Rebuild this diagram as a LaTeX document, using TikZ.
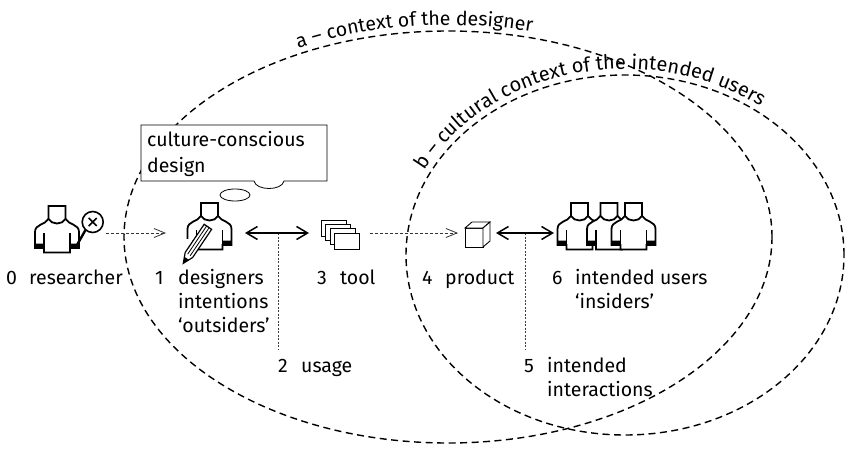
\documentclass[tikz,border=0pt]{standalone}
\usepackage{fontspec}
\setmainfont[Numbers=Lining]{Fira Sans}
\usetikzlibrary{decorations.text,arrows.meta}
\tikzset{
  ctx/.style={draw=black,line width=1.4pt,dash pattern=on 7pt off 4.5pt},
  dot/.style={draw=black!75,line width=0.8pt,dash pattern=on 2pt off 1.5pt},
  flow/.style={draw=black!80,line width=0.8pt,dash pattern=on 3pt off 2pt,-{Straight Barb[length=11pt,width=9pt,line width=.8pt]}},
  link/.style={draw=black,line width=1.5pt,{Straight Barb[length=11pt,width=13pt,line width=1.5pt]}-{Straight Barb[length=11pt,width=13pt,line width=1.5pt]}},
  lab/.style={anchor=base west,font=\fontsize{19.5}{24}\selectfont,inner sep=0pt,align=left},
  person/.pic={
    \begin{scope}[yscale=-1,line width=1.8pt,line join=miter]
    \draw[fill=white] (-22,43) -- (-22,27) .. controls (-22,19) and (-12,20) .. (-8.5,14) -- (8.5,14) .. controls (12,20) and (22,19) .. (22,27) -- (22,43) -- (13,43) -- (13,47.5) -- (-13,47.5) -- (-13,43) -- cycle;
    \draw[fill=white] (-8.5,14) -- (-8.5,0.9) -- (8.5,0.9) -- (8.5,14) .. controls (5,20) and (-5,20) .. (-8.5,14) -- cycle;
    \draw (-13,28) -- (-13,47.5) (13,28) -- (13,47.5);
    \fill (-22,38.5) rectangle (-13,43) (13,38.5) rectangle (22,43);
    \end{scope}
  }
}
\begin{document}
\begin{tikzpicture}[x=1pt,y=1pt]
\useasboundingbox (0,0) rectangle (845,472);
% context ellipses
\coordinate (ca) at (448,235);
\coordinate (cb) at (625,217);
\draw[ctx] (ca) ellipse [x radius=324,y radius=206];
\draw[ctx] (cb) ellipse [x radius=219,y radius=180];
\path[decorate,decoration={text along path,text={|\fontsize{19.5}{19.5}\selectfont|a – context of the designer}}] (448,235) ++(117:330 and 212) arc[start angle=117,end angle=50,x radius=330,y radius=212];
\path[decorate,decoration={text along path,text={|\fontsize{20}{20}\selectfont|b – cultural context of the intended users}}]
  (625,217) ++(153:225 and 186) arc[start angle=153,end angle=30,x radius=225,y radius=186];
% callout
\draw[fill=white,line width=.8pt] (141,347) -- (327,347) -- (327,291) -- (284,291) .. controls (282,281) and (256,281) .. (254,291) -- (141,291) -- cycle;
\node[lab] (cc) at (147,325) {culture-conscious};
\node[lab] (cd) at (147,300) {design};
\draw[line width=.8pt,fill=white] (235,277) ellipse [x radius=15,y radius=6];
% people
\pic at (57,267) {person};
\pic at (209.5,270) {person};
\pic at (579.5,270) {person};
\pic at (609,270) {person};
\pic at (633.5,270) {person};
% lens
\coordinate (lens) at (92.7,250);
\draw[line width=1.6pt,fill=white] (lens) circle (10.5);
\draw[line width=1.5pt] (88.7,246) -- (96.7,254) (88.7,254) -- (96.7,246);
\draw[line width=2.4pt] (85.5,242) -- (77,227);
% pencil
\fill[white] (185,222) rectangle (192,233);
\begin{scope}[shift={(183.3,208.7)},rotate=56]
\draw[fill=white,line width=1.2pt] (0,0) -- (10,-4.5) -- (44,-4.5) -- (44,4.5) -- (10,4.5) -- cycle;
\draw[line width=.8pt] (10,-1.5) -- (44,-1.5) (10,1.5) -- (44,1.5);
\fill (0,0) -- (6,-2.7) -- (6,2.7) -- cycle;
\end{scope}
% tool
\foreach \i/\x/\y in {0/321/252,1/325.5/248,2/330/244,3/334/239}{
  \draw[fill=white,line width=.9pt] (\x,\y) rectangle ++(25,-16);
}
% cube
\draw[fill=white,line width=.9pt] (465,225) rectangle (483,244);
\draw[fill=white,line width=.9pt] (465,244) -- (472,250) -- (490,250) -- (483,244) -- cycle;
\draw[fill=white,line width=.9pt] (483,225) -- (490,231) -- (490,250) -- (483,244) -- cycle;
% connectors
\coordinate (r0) at (106,239); \coordinate (r1) at (166,239);
\coordinate (t0) at (370,239); \coordinate (t1) at (458,239);
\coordinate (d0) at (245,239); \coordinate (d1) at (309,239);
\coordinate (p0) at (496,239); \coordinate (p1) at (554,239);
\coordinate (u0) at (278,239); \coordinate (u1) at (278,122);
\coordinate (i0) at (525,239); \coordinate (i1) at (525,122);
\draw[flow] (r0) -- (r1);
\draw[flow] (t0) -- (t1);
\draw[dot] (u0) -- (u1);
\draw[dot] (i0) -- (i1);
\draw[link] (d0) -- (d1);
\draw[link] (p0) -- (p1);
% labels
\node[lab] (n0) at (6,188) {0};
\node[lab] (l0) at (29,188) {researcher};
\node[lab] (n1) at (155,188) {1};
\node[lab,anchor=north west] (l1) at (178,203) {designers\\intentions\\‘outsiders’};
\node[lab] (n3) at (317,188) {3};
\node[lab] (l3) at (340,188) {tool};
\node[lab] (n4) at (422,188) {4};
\node[lab] (l4) at (445,188) {product};
\node[lab] (n6) at (552,188) {6};
\node[lab,anchor=north west] (l6) at (575,203) {intended users\\‘insiders’};
\node[lab] (n2) at (278,100) {2};
\node[lab] (l2) at (301,100) {usage};
\node[lab] (n5) at (524,100) {5};
\node[lab,anchor=north west] (l5) at (547,115) {intended\\interactions};
\end{tikzpicture}
\end{document}
